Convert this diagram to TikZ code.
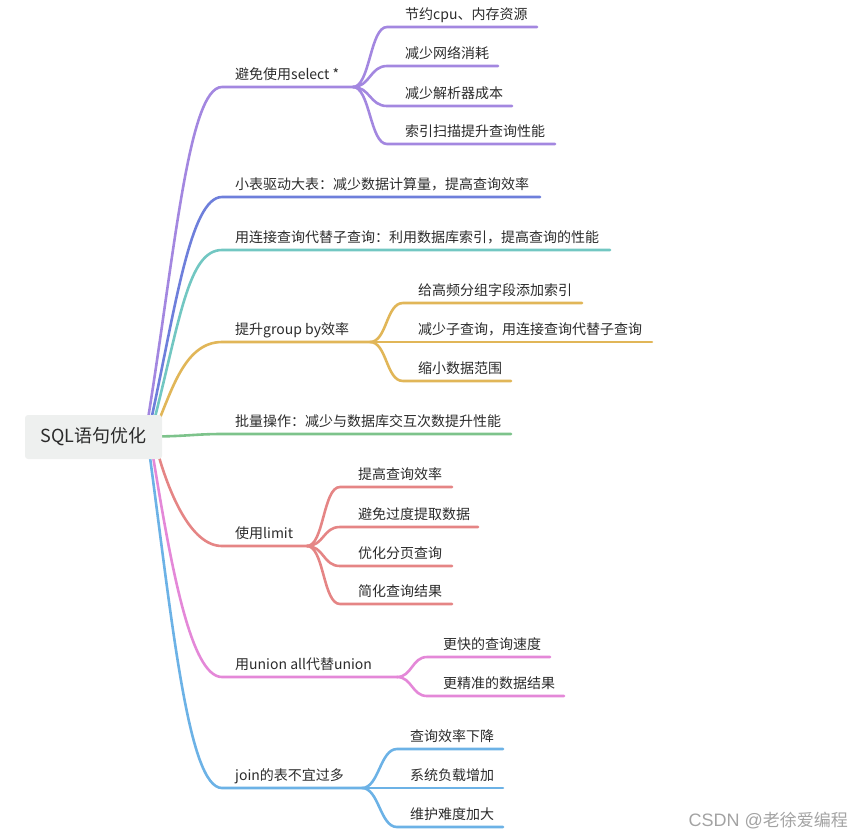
\documentclass[tikz,border=0pt]{standalone}
\usepackage{fontspec}
\newfontfamily\cjk{Noto Sans CJK SC}
\newfontfamily\wmlat{Liberation Sans}
\definecolor{cpurple}{HTML}{A387E0}
\definecolor{cblue}{HTML}{6E7FDB}
\definecolor{cteal}{HTML}{72C7C2}
\definecolor{cgold}{HTML}{E1B658}
\definecolor{cgreen}{HTML}{7DC38B}
\definecolor{cred}{HTML}{E58585}
\definecolor{cpink}{HTML}{E488D8}
\definecolor{csky}{HTML}{6CB2E6}
\definecolor{txt}{HTML}{2B2B2B}
\definecolor{rootfill}{HTML}{EEF0EF}
\definecolor{wm}{HTML}{A3A3A3}
\tikzset{
  lbl/.style={anchor=base west, inner sep=0pt, text=txt, font=\cjk\fontsize{14}{14}\selectfont},
  edge/.style={line width=2.6pt, line cap=round},
}
\begin{document}
\begin{tikzpicture}[x=1pt,y=-1pt]
\useasboundingbox (0,0) rectangle (864,839);

% root branch start points
\coordinate (r1) at (147,425);
\coordinate (r2) at (150,425);
\coordinate (r3) at (153,425);
\coordinate (r4) at (157,425);
\coordinate (r5) at (150,436.5);
\coordinate (r6) at (157,450);
\coordinate (r7) at (152,450);
\coordinate (r8) at (149,450);

% branch 1
\coordinate (b1s) at (222,87); \coordinate (b1f) at (353,87);
\coordinate (c11s) at (387,27); \coordinate (c11e) at (537,27);
\coordinate (c12s) at (387,66); \coordinate (c12e) at (498,66);
\coordinate (c13s) at (387,106); \coordinate (c13e) at (512,106);
\coordinate (c14s) at (387,144); \coordinate (c14e) at (555,144);
\draw[edge,cpurple] (r1) .. controls (174,260) and (188,87) .. (b1s) -- (b1f);
\foreach \c in {c11,c12,c13,c14}
  \draw[edge,cpurple] (b1f) .. controls +(17,0) and +(-17,0) .. (\c s) -- (\c e);
\node[lbl] (t1) at (235,79) {避免使用select *};
\node[lbl] (t11) at (405,19) {节约cpu、内存资源};
\node[lbl] (t12) at (405,58) {减少网络消耗};
\node[lbl] (t13) at (405,98) {减少解析器成本};
\node[lbl] (t14) at (405,136) {索引扫描提升查询性能};

% branch 2
\coordinate (b2s) at (222,197); \coordinate (b2e) at (540,197);
\draw[edge,cblue] (r2) .. controls (175,311) and (190,197) .. (b2s) -- (b2e);
\node[lbl] (t2) at (235,189) {小表驱动大表：减少数据计算量，提高查询效率};

% branch 3
\coordinate (b3s) at (222,250); \coordinate (b3e) at (610,250);
\draw[edge,cteal] (r3) .. controls (180,320) and (188,250) .. (b3s) -- (b3e);
\node[lbl] (t3) at (235,242) {用连接查询代替子查询：利用数据库索引，提高查询的性能};

% branch 4
\coordinate (b4s) at (222,342); \coordinate (b4f) at (370,342);
\coordinate (c41s) at (403,303); \coordinate (c41e) at (582,303);
\coordinate (c42s) at (403,342); \coordinate (c42e) at (652,342);
\coordinate (c43s) at (403,381); \coordinate (c43e) at (511,381);
\draw[edge,cgold] (r4) .. controls (172,390) and (185,342) .. (b4s) -- (b4f);
\foreach \c in {c41,c42,c43}
  \draw[edge,cgold] (b4f) .. controls +(17,0) and +(-17,0) .. (\c s) -- (\c e);
\node[lbl] (t4) at (235,334) {提升group by效率};
\node[lbl] (t41) at (418,295) {给高频分组字段添加索引};
\node[lbl] (t42) at (418,334) {减少子查询，用连接查询代替子查询};
\node[lbl] (t43) at (418,373) {缩小数据范围};

% branch 5
\coordinate (b5s) at (222,434); \coordinate (b5e) at (511,434);
\draw[edge,cgreen] (r5) .. controls (185,436.5) and (195,434) .. (b5s) -- (b5e);
\node[lbl] (t5) at (235,426) {批量操作：减少与数据库交互次数提升性能};

% branch 6
\coordinate (b6s) at (222,546); \coordinate (b6f) at (307,546);
\coordinate (c61s) at (340,487); \coordinate (c61e) at (452,487);
\coordinate (c62s) at (340,527); \coordinate (c62e) at (478,527);
\coordinate (c63s) at (340,566); \coordinate (c63e) at (452,566);
\coordinate (c64s) at (340,604); \coordinate (c64e) at (452,604);
\draw[edge,cred] (r6) .. controls (168,490) and (190,546) .. (b6s) -- (b6f);
\foreach \c in {c61,c62,c63,c64}
  \draw[edge,cred] (b6f) .. controls +(17,0) and +(-17,0) .. (\c s) -- (\c e);
\node[lbl] (t6) at (235,538) {使用limit};
\node[lbl] (t61) at (358,479) {提高查询效率};
\node[lbl] (t62) at (358,519) {避免过度提取数据};
\node[lbl] (t63) at (358,558) {优化分页查询};
\node[lbl] (t64) at (358,596) {简化查询结果};

% branch 7
\coordinate (b7s) at (222,677); \coordinate (b7f) at (397,677);
\coordinate (c71s) at (427,657); \coordinate (c71e) at (550,657);
\coordinate (c72s) at (427,696); \coordinate (c72e) at (564,696);
\draw[edge,cpink] (r7) .. controls (170,560) and (190,677) .. (b7s) -- (b7f);
\foreach \c in {c71,c72}
  \draw[edge,cpink] (b7f) .. controls +(15,0) and +(-15,0) .. (\c s) -- (\c e);
\node[lbl] (t7) at (235,669) {用union all代替union};
\node[lbl] (t71) at (443,649) {更快的查询速度};
\node[lbl] (t72) at (443,688) {更精准的数据结果};

% branch 8
\coordinate (b8s) at (222,788); \coordinate (b8f) at (362,788);
\coordinate (c81s) at (397,749); \coordinate (c81e) at (503,749);
\coordinate (c82s) at (397,788); \coordinate (c82e) at (503,788);
\coordinate (c83s) at (397,827); \coordinate (c83e) at (503,827);
\draw[edge,csky] (r8) .. controls (172,620) and (188,788) .. (b8s) -- (b8f);
\foreach \c in {c81,c82,c83}
  \draw[edge,csky] (b8f) .. controls +(17,0) and +(-17,0) .. (\c s) -- (\c e);
\node[lbl] (t8) at (235,780) {join的表不宜过多};
\node[lbl] (t81) at (410,741) {查询效率下降};
\node[lbl] (t82) at (410,780) {系统负载增加};
\node[lbl] (t83) at (410,819) {维护难度加大};

% root
\node[fill=rootfill, rounded corners=3pt, minimum width=137pt, minimum height=44pt,
      inner sep=0pt, text=txt, font=\cjk\fontsize{18}{18}\selectfont] (root) at (93.5,437) {SQL语句优化};

% watermark
\node[anchor=base east, inner sep=0pt, text=wm] (wmark) at (848,826)
  {{\wmlat\fontsize{18}{18}\selectfont CSDN @}{\cjk\fontsize{17}{17}\selectfont 老徐爱编程}};
\end{tikzpicture}
\end{document}
